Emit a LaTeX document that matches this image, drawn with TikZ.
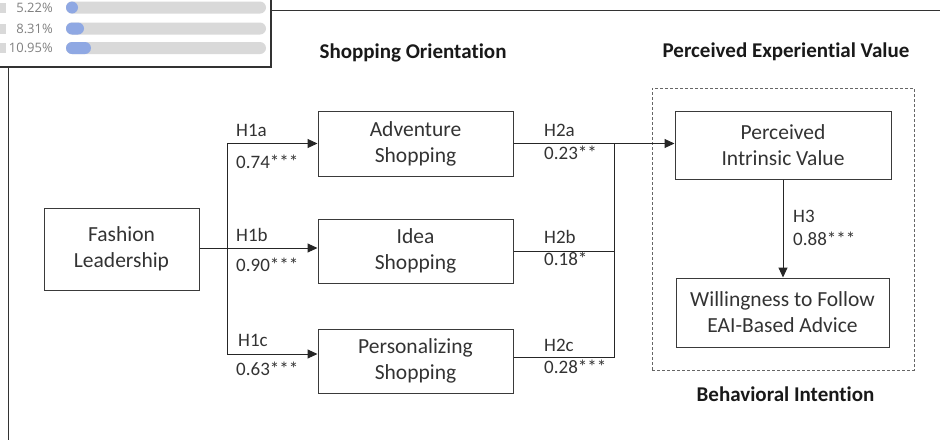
\documentclass[tikz,border=0pt]{standalone}
\usepackage{fontspec}
\setmainfont{Carlito}[Ligatures=NoCommon]
\newfontfamily\uifont{Open Sans}
\usepackage{tikz}
\usetikzlibrary{arrows.meta}
\usetikzlibrary{fit}
\definecolor{boxline}{HTML}{3A3A3A}
\definecolor{textgrey}{HTML}{333333}
\definecolor{bargrey}{HTML}{D9D9D9}
\definecolor{barblue}{HTML}{8FA8E3}
\definecolor{pctgrey}{HTML}{808080}
\tikzset {
  % construct boxes
  construct/.style = {draw=boxline, line width=1pt, align=center, text=textgrey,
    inner sep=0pt, font=\fontsize{21.5}{26}\selectfont},
  % hypothesis and coefficient labels
  coef/.style = {anchor=base west, inner sep=0pt, text=textgrey,
    font=\fontsize{19}{23}\selectfont},
  % group titles
  heading/.style = {anchor=base, inner sep=0pt, text=black!90,
    font=\fontsize{21}{25}\selectfont\bfseries},
  % paths of the model
  link/.style = {draw=black!85, line width=1pt},
  linkarrow/.style = {link, -{Triangle[length=10pt, width=9pt]}},
  % overlay in the corner
  bar/.style = {rounded corners=6pt},
  pct/.style = {anchor=east, inner sep=0pt, text=pctgrey,
    font=\uifont\fontsize{13}{15}\selectfont},
}

\begin{document}
\begin{tikzpicture}[x=1pt, y=-1pt]
  \useasboundingbox (0,0) rectangle (940,440);

  % frame and overlay
  \draw[black!80, line width=1pt] (271,10) -- (940,10);
  \draw[black!80, line width=1pt] (8,67) -- (8,440);
  \draw[fill=white, draw=black!80, line width=1.5pt] (-10,-10) rectangle (271,67);
  \foreach \y/\v/\w in {7.5/5.22/78, 28.5/8.31/84, 48/10.95/91} {
    \fill[bargrey] (-5,\y-5) rectangle (6,\y+5);
    \node[pct] at (53,\y) {\v\%};
    \fill[bargrey, bar] (66,\y-6) rectangle (266,\y+6);
    \fill[barblue, bar] (66,\y-6) rectangle (\w,\y+6);
  }

  % constructs
  \node[construct, minimum width=155pt, minimum height=82pt] (fl) at (121.5,249) {Fashion\\Leadership};
  \node[construct, minimum width=195pt, minimum height=65pt] (as) at (415.5,143.5) {Adventure\\Shopping};
  \node[construct, minimum width=195pt, minimum height=64pt] (is) at (415.5,251) {Idea\\Shopping};
  \node[construct, minimum width=195pt, minimum height=64pt] (ps) at (415.5,361) {Personalizing\\Shopping};
  \node[construct, minimum width=216pt, minimum height=68pt] (piv) at (783,145) {Perceived\\Intrinsic Value};
  \node[construct, minimum width=213pt, minimum height=69pt] (wfa) at (782.5,312.5) {Willingness to Follow\\EAI-Based Advice};
  \node[draw=black!60, line width=1pt, dash pattern=on 3pt off 2pt, inner sep=22.5pt,
    fit=(piv)(wfa)] (pev) {};

  % titles
  \node[heading] (so) at (413,58.3) {Shopping Orientation};
  \node[heading] (pevt) at (786,57.3) {Perceived Experiential Value};
  \node[heading] (bit) at (785.5,401.7) {Behavioral Intention};

  % paths
  \coordinate (split) at (227,248);
  \coordinate (merge) at (614,143.5);
  \draw[link] (fl.east |- split) -- (split);
  \draw[linkarrow] (split) |- (as);
  \draw[linkarrow] (split) -- (split -| is.west);
  \draw[linkarrow] (split) |- ([yshift=7pt]ps.west);
  \draw[linkarrow] (as.east) -- (as.east -| piv.west);
  \draw[link] (is.east) -- (is.east -| merge);
  \draw[link] ([yshift=4pt]ps.east) -| (merge);
  \draw[linkarrow] (piv.south) -- (piv.south |- wfa.north);

  % coefficients
  \node[coef] (h1a) at (236,136.7) {H1a};
  \node[coef] (c1a) at (236,168) {0.74***};
  \node[coef] (h1b) at (236,241.7) {H1b};
  \node[coef] (c1b) at (236,271.7) {0.90***};
  \node[coef] (h1c) at (238,346.7) {H1c};
  \node[coef] (c1c) at (236,375) {0.63***};
  \node[coef] (h2a) at (544,136.7) {H2a};
  \node[coef] (c2a) at (544,159.3) {0.23**};
  \node[coef] (h2b) at (544,243.3) {H2b};
  \node[coef] (c2b) at (544,265.7) {0.18*};
  \node[coef] (h2c) at (544,351.7) {H2c};
  \node[coef] (c2c) at (544,373.3) {0.28***};
  \node[coef] (h3) at (793,222.7) {H3};
  \node[coef] (c3) at (793,245) {0.88***};
\end{tikzpicture}
\end{document}
